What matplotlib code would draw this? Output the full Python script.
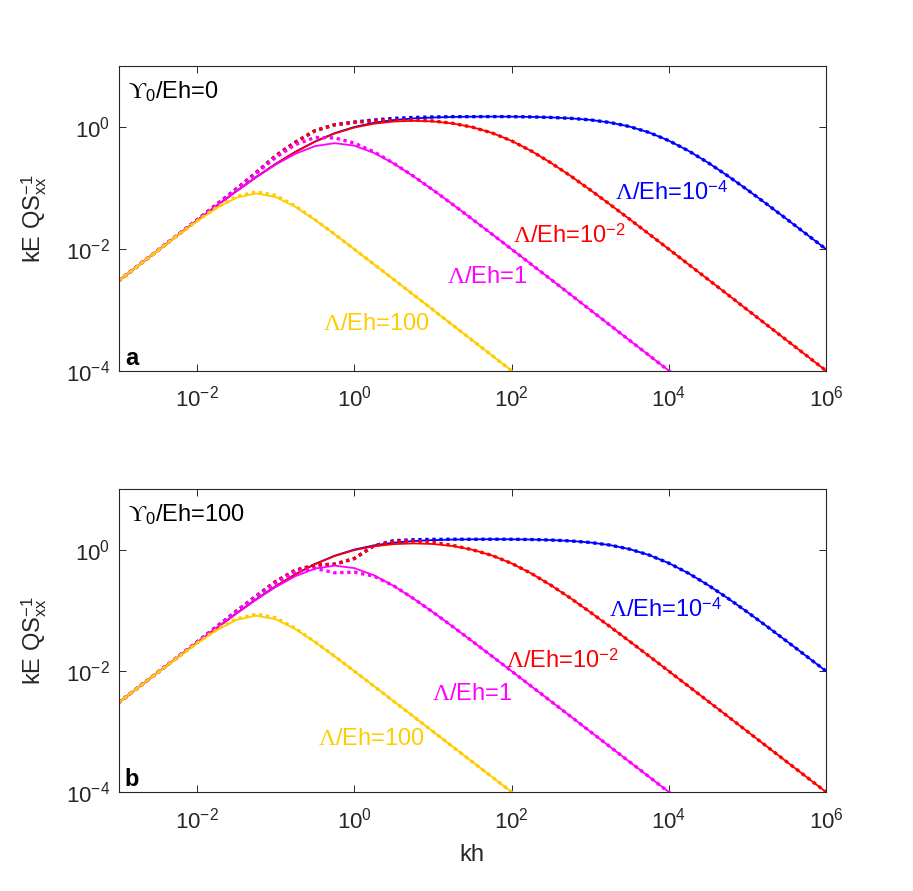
import numpy as np
import matplotlib
matplotlib.use("Agg")
import matplotlib.pyplot as plt
from matplotlib.ticker import FixedLocator, NullLocator, LogFormatterMathtext

plt.rcParams["font.family"] = ["Liberation Sans", "DejaVu Sans"]
plt.rcParams["mathtext.fontset"] = "custom"
plt.rcParams["mathtext.rm"] = "Liberation Serif"
plt.rcParams["mathtext.it"] = "Liberation Serif:italic"
plt.rcParams["mathtext.bf"] = "Liberation Serif:bold"
plt.rcParams["mathtext.fallback"] = "stix"

# log10(kh) sample grid
KH_EXP = [-3, -2.75, -2.5, -2.25, -2, -1.75, -1.5, -1.25, -1, -0.75, -0.5, -0.25,
          0, 0.25, 0.5, 0.75, 1, 1.25, 1.5, 1.75, 2, 2.25, 2.5, 2.75, 3, 3.25,
          3.5, 3.75, 4, 4.25, 4.5, 4.75, 5, 5.25, 5.5, 5.75, 6]

# solid lines (same in both panels)
yellow_solid = [0.00299, 0.00531, 0.00940, 0.01653, 0.02857, 0.04719, 0.06959, 0.08184,
                0.07143, 0.04921, 0.02999, 0.01739, 0.00990, 0.00560, 0.00316, 0.00178,
                0.00100, 0.000562, 0.000316, 0.000178, 0.000100, 0.0000562]
magenta_solid = [0.00299, 0.00531, 0.00943, 0.01668, 0.02940, 0.05146, 0.08897, 0.1504,
                 0.2439, 0.3676, 0.4909, 0.5488, 0.5000, 0.3799, 0.2542, 0.1575, 0.09346,
                 0.05415, 0.03096, 0.01757, 0.00993, 0.00560, 0.00316, 0.00178, 0.000999,
                 0.000562, 0.000316, 0.000178, 0.000100, 0.0000562]
red_solid = [0.00299, 0.00531, 0.00943, 0.01668, 0.02941, 0.05150, 0.08923, 0.1516,
             0.2499, 0.3931, 0.5800, 0.7901, 0.9901, 1.146, 1.244, 1.278, 1.250, 1.158,
             1.006, 0.8097, 0.5988, 0.4087, 0.2611, 0.1590, 0.09375, 0.05422, 0.03097,
             0.01757, 0.00993, 0.00560, 0.00316, 0.00178, 0.000999, 0.000562, 0.000316,
             0.000178, 0.000100]
blue_solid = [0.00299, 0.00531, 0.00943, 0.01668, 0.02941, 0.05150, 0.08930, 0.1519,
              0.2508, 0.3953, 0.5851, 0.8013, 1.012, 1.187, 1.315, 1.399, 1.451, 1.480,
              1.495, 1.500, 1.496, 1.482, 1.454, 1.405, 1.325, 1.201, 1.030, 0.8215,
              0.604, 0.411, 0.262, 0.1593, 0.0939, 0.05425, 0.03098, 0.01758, 0.00994]

# dotted lines, panel a (Upsilon0/Eh = 0)
yellow_dot_a = [0.00299, 0.00531, 0.00945, 0.0167, 0.0290, 0.0482, 0.0725, 0.0870,
                0.0760, 0.0508, 0.0303, 0.01745, 0.00990, 0.00560, 0.00316, 0.00178,
                0.00100, 0.000562, 0.000316, 0.000178, 0.000100, 0.0000562]
magenta_dot_a = [0.00299, 0.00533, 0.00950, 0.0169, 0.0300, 0.0540, 0.0970, 0.175,
                 0.320, 0.520, 0.680, 0.670, 0.550, 0.395, 0.257, 0.1580, 0.09346,
                 0.05415, 0.03096, 0.01757, 0.00993, 0.00560, 0.00316, 0.00178, 0.000999,
                 0.000562, 0.000316, 0.000178, 0.000100, 0.0000562]
red_dot_a = [0.00299, 0.00533, 0.00950, 0.0169, 0.0300, 0.0540, 0.0970, 0.180,
             0.340, 0.570, 0.880, 1.100, 1.200, 1.270, 1.310, 1.320, 1.270, 1.165,
             1.006, 0.8097, 0.5988, 0.4087, 0.2611, 0.1590, 0.09375, 0.05422, 0.03097,
             0.01757, 0.00993, 0.00560, 0.00316, 0.00178, 0.000999, 0.000562, 0.000316,
             0.000178, 0.000100]
blue_dot_a = [0.00299, 0.00533, 0.00950, 0.0169, 0.0300, 0.0540, 0.0970, 0.180,
              0.340, 0.570, 0.880, 1.100, 1.220, 1.320, 1.400, 1.450, 1.480, 1.495,
              1.495, 1.500, 1.496, 1.482, 1.454, 1.405, 1.325, 1.201, 1.030, 0.8215,
              0.604, 0.411, 0.262, 0.1593, 0.0939, 0.05425, 0.03098, 0.01758, 0.00994]

# dotted lines, panel b (Upsilon0/Eh = 100)
yellow_dot_b = [0.00299, 0.00531, 0.00945, 0.0167, 0.0290, 0.0482, 0.0722, 0.0865,
                0.0755, 0.0505, 0.0302, 0.01745, 0.00990, 0.00560, 0.00316, 0.00178,
                0.00100, 0.000562, 0.000316, 0.000178, 0.000100, 0.0000562]
magenta_dot_b = [0.00299, 0.00533, 0.00950, 0.0169, 0.0300, 0.0540, 0.0970, 0.170,
                 0.285, 0.440, 0.495, 0.418, 0.428, 0.368, 0.255, 0.1578, 0.09346,
                 0.05415, 0.03096, 0.01757, 0.00993, 0.00560, 0.00316, 0.00178, 0.000999,
                 0.000562, 0.000316, 0.000178, 0.000100, 0.0000562]
red_dot_b = [0.00299, 0.00533, 0.00950, 0.0169, 0.0300, 0.0540, 0.0970, 0.172,
             0.300, 0.460, 0.560, 0.580, 0.720, 1.170, 1.370, 1.400, 1.330, 1.190,
             1.006, 0.8097, 0.5988, 0.4087, 0.2611, 0.1590, 0.09375, 0.05422, 0.03097,
             0.01757, 0.00993, 0.00560, 0.00316, 0.00178, 0.000999, 0.000562, 0.000316,
             0.000178, 0.000100]
blue_dot_b = [0.00299, 0.00533, 0.00950, 0.0169, 0.0300, 0.0540, 0.0970, 0.172,
              0.300, 0.460, 0.560, 0.580, 0.720, 1.170, 1.420, 1.470, 1.490, 1.500,
              1.495, 1.500, 1.496, 1.482, 1.454, 1.405, 1.325, 1.201, 1.030, 0.8215,
              0.604, 0.411, 0.262, 0.1593, 0.0939, 0.05425, 0.03098, 0.01758, 0.00994]

LABELS = [r"$\Lambda$/Eh=10$^{\mathdefault{-4}}$", r"$\Lambda$/Eh=10$^{\mathdefault{-2}}$",
          r"$\Lambda$/Eh=1", r"$\Lambda$/Eh=100"]
COLORS = ["#0000FF", "#FF0000", "#FF00FF", "#FFCC00"]
UPSILON = ["0", "100"]
XTICKS = [1e-2, 1e0, 1e2, 1e4, 1e6]
YTICKS = [1e-4, 1e-2, 1e0]

AX_COL = "#262626"
FS = 17
kh = 10.0 ** np.array(KH_EXP)

fig = plt.figure(figsize=(9.13, 8.91), dpi=100)
ax_a = fig.add_axes([0.1298, 0.5840, 0.7749, 0.3414])
ax_b = fig.add_axes([0.1298, 0.1111, 0.7749, 0.3397])

panels = [
    (ax_a, "a", [blue_dot_a, red_dot_a, magenta_dot_a, yellow_dot_a],
     [(0.702, 0.561), (0.558, 0.420), (0.464, 0.288), (0.289, 0.134)]),
    (ax_b, "b", [blue_dot_b, red_dot_b, magenta_dot_b, yellow_dot_b],
     [(0.693, 0.578), (0.547, 0.410), (0.443, 0.304), (0.282, 0.155)]),
]
solids = [blue_solid, red_solid, magenta_solid, yellow_solid]

for i, (ax, tag, dots, pos) in enumerate(panels):
    for sol, dot, col in zip(solids, dots, COLORS):
        ax.plot(kh[:len(sol)], sol, color=col, lw=1.3, solid_capstyle="butt")
        ax.plot(kh[:len(dot)], dot, color=col, lw=2.4, linestyle=(0, (1, 1.1)),
                dash_capstyle="butt")
    for lab, col, (px, py) in zip(LABELS, COLORS, pos):
        ax.text(px, py, lab, color=col, fontsize=FS, transform=ax.transAxes,
                ha="left", va="baseline")

    ax.set_xscale("log")
    ax.set_yscale("log")
    ax.set_xlim(1e-3, 1e6)
    ax.set_ylim(1e-4, 1e1)
    ax.xaxis.set_major_locator(FixedLocator(XTICKS))
    ax.yaxis.set_major_locator(FixedLocator(YTICKS))
    ax.xaxis.set_minor_locator(NullLocator())
    ax.yaxis.set_minor_locator(NullLocator())
    ax.xaxis.set_major_formatter(LogFormatterMathtext())
    ax.yaxis.set_major_formatter(LogFormatterMathtext())
    ax.tick_params(which="both", direction="in", top=True, right=True, length=5,
                   width=0.7, color=AX_COL, labelcolor=AX_COL, labelsize=16)
    ax.tick_params(axis="x", pad=11)
    ax.tick_params(axis="y", pad=6)
    for sp in ax.spines.values():
        sp.set_color(AX_COL)
        sp.set_linewidth(0.8)

    ax.set_ylabel(r"kE Q$\mathdefault{S}_{\mathdefault{xx}}^{\mathdefault{-1}}$",
                  fontsize=FS, color=AX_COL)
    ax.yaxis.set_label_coords(-0.098, 0.5)
    ax.text(0.013, 0.893, r"$\mathrm{ϒ}_{\mathdefault{0}}$/Eh=" + UPSILON[i],
            transform=ax.transAxes, fontsize=FS, color="black", ha="left", va="baseline")
    ax.text(0.009, 0.02, tag, transform=ax.transAxes, fontsize=FS, fontweight="bold",
            color="black", ha="left", va="baseline")

ax_b.set_xlabel("kh", fontsize=FS, color=AX_COL)
ax_b.xaxis.set_label_coords(0.5, -0.172)

fig.savefig("out.png", dpi=100)
